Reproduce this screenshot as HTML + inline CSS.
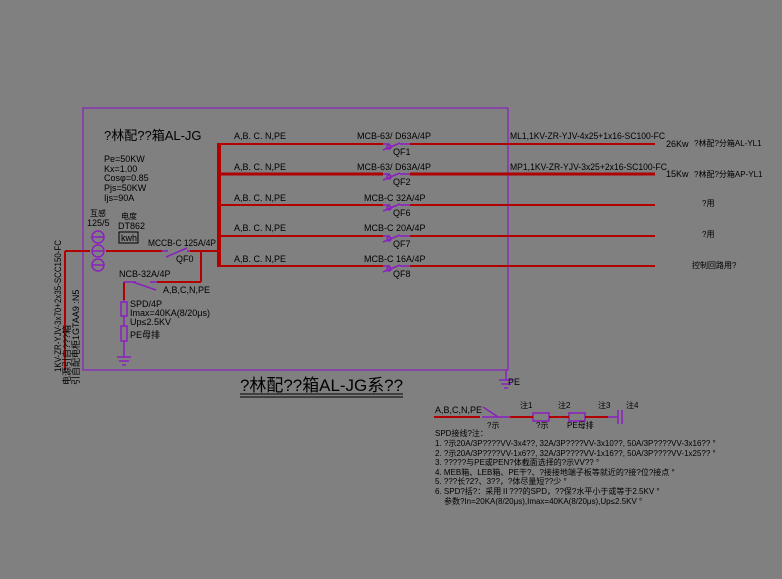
<!DOCTYPE html>
<html><head><meta charset="utf-8"><style>
html,body{margin:0;padding:0;background:#808080;}
svg{display:block;}
text{font-family:"Liberation Sans","Noto Sans CJK SC",sans-serif;fill:#000;}
</style></head><body>
<svg width="782" height="579" viewBox="0 0 782 579" xmlns="http://www.w3.org/2000/svg">
<rect width="782" height="579" fill="#808080"/>
<rect x="83" y="108" width="425" height="262" fill="none" stroke="#8a1fc0" stroke-width="1.2"/>
<line x1="219" y1="143" x2="219" y2="267" stroke="#b00000" stroke-width="4"/>
<g stroke="#b00000" stroke-width="2">
<line x1="219" y1="144" x2="383" y2="144"/><line x1="410" y1="144" x2="655" y2="144"/>
<line x1="410" y1="174" x2="655" y2="174" stroke-width="3"/><line x1="219" y1="174" x2="383" y2="174" stroke-width="3"/>
<line x1="219" y1="205" x2="383" y2="205"/><line x1="410" y1="205" x2="655" y2="205"/>
<line x1="219" y1="236" x2="383" y2="236"/><line x1="410" y1="236" x2="655" y2="236"/>
<line x1="219" y1="266" x2="383" y2="266"/><line x1="410" y1="266" x2="655" y2="266"/>
<line x1="65" y1="251" x2="65" y2="370"/>
<line x1="65" y1="251" x2="90" y2="251"/>
<line x1="106" y1="251" x2="162" y2="251"/>
<line x1="190" y1="251" x2="219" y2="251"/>
<line x1="201" y1="251" x2="201" y2="282"/>
<line x1="201" y1="282" x2="157" y2="282"/>
<line x1="124" y1="282" x2="124" y2="300"/>
</g>
<g stroke="#8a1fc0" stroke-width="1.5" fill="none">
<g transform="translate(0,144)"><line x1="383" y1="0" x2="390" y2="0"/><line x1="383" y1="6" x2="400" y2="-1"/><circle cx="389" cy="3" r="2"/><line x1="400" y1="0" x2="410" y2="0"/></g>
<g transform="translate(0,174)"><line x1="383" y1="0" x2="390" y2="0"/><line x1="383" y1="6" x2="400" y2="-1"/><circle cx="389" cy="3" r="2"/><line x1="400" y1="0" x2="410" y2="0"/></g>
<g transform="translate(0,205)"><line x1="383" y1="0" x2="390" y2="0"/><line x1="383" y1="6" x2="400" y2="-1"/><circle cx="389" cy="3" r="2"/><line x1="400" y1="0" x2="410" y2="0"/></g>
<g transform="translate(0,236)"><line x1="383" y1="0" x2="390" y2="0"/><line x1="383" y1="6" x2="400" y2="-1"/><circle cx="389" cy="3" r="2"/><line x1="400" y1="0" x2="410" y2="0"/></g>
<g transform="translate(0,266)"><line x1="383" y1="0" x2="390" y2="0"/><line x1="383" y1="6" x2="400" y2="-1"/><circle cx="389" cy="3" r="2"/><line x1="400" y1="0" x2="410" y2="0"/></g>
<line x1="162" y1="251" x2="168" y2="251"/><line x1="166" y1="257" x2="187" y2="248"/><line x1="187" y1="251" x2="190" y2="251"/>
<line x1="124" y1="282" x2="136" y2="282"/><line x1="133" y1="282" x2="156" y2="290"/><line x1="150" y1="282" x2="157" y2="282"/>
<circle cx="98" cy="237" r="6"/><circle cx="98" cy="251" r="6"/><circle cx="98" cy="265" r="6"/>
<line x1="92" y1="237" x2="104" y2="237"/><line x1="92" y1="251" x2="104" y2="251"/><line x1="92" y1="265" x2="104" y2="265"/>
<line x1="124" y1="300" x2="124" y2="357"/>
<rect x="121" y="302" width="6" height="14" fill="#808080"/>
<rect x="121" y="326" width="6" height="15" fill="#808080"/>
<line x1="117" y1="357" x2="131" y2="357"/><line x1="119" y1="361" x2="129" y2="361"/><line x1="122" y1="365" x2="126" y2="365"/>
<line x1="506" y1="370" x2="506" y2="380"/><line x1="499" y1="380" x2="513" y2="380"/><line x1="501" y1="384" x2="511" y2="384"/><line x1="504" y1="388" x2="508" y2="388"/>
<line x1="482" y1="417" x2="498" y2="417"/><line x1="483" y1="407" x2="498" y2="417"/>
<line x1="498" y1="417" x2="510" y2="417"/>
<rect x="533" y="413" width="16" height="8" fill="#808080"/>
<rect x="569" y="413" width="16" height="8" fill="#808080"/>
<line x1="608" y1="417" x2="618" y2="417"/><line x1="618" y1="410" x2="618" y2="424"/><line x1="622" y1="410" x2="622" y2="424"/>
</g>
<g stroke="#b00000" stroke-width="2"><line x1="434" y1="417" x2="480" y2="417"/><line x1="510" y1="417" x2="533" y2="417"/><line x1="549" y1="417" x2="569" y2="417"/><line x1="585" y1="417" x2="608" y2="417"/></g>
<rect x="119" y="232" width="19" height="11" fill="none" stroke="#000" stroke-width="1"/>
<g font-size="9">
<text x="104" y="140" font-size="13">?林配??箱AL-JG</text>
<text x="104" y="162">Pe=50KW</text><text x="104" y="172">Kx=1.00</text><text x="104" y="181">Cosφ=0.85</text><text x="104" y="191">Pjs=50KW</text><text x="104" y="201">Ijs=90A</text>
<text x="90" y="216" font-size="8">互感</text><text x="87" y="226">125/5</text>
<text x="121" y="219" font-size="8">电度</text><text x="118" y="229">DT862</text><text x="121" y="241">kwh</text>
<text x="148" y="246" textLength="68" lengthAdjust="spacingAndGlyphs">MCCB-C 125A/4P</text><text x="176" y="262">QF0</text>
<text x="119" y="277">NCB-32A/4P</text><text x="163" y="293">A,B,C,N,PE</text>
<text x="130" y="307">SPD/4P</text><text x="130" y="316">Imax=40KA(8/20μs)</text><text x="130" y="325">Up≤2.5KV</text><text x="130" y="338">PE母排</text>
<text x="234" y="139">A,B. C. N,PE</text><text x="234" y="170">A,B. C. N,PE</text><text x="234" y="201">A,B. C. N,PE</text><text x="234" y="231">A,B. C. N,PE</text><text x="234" y="262">A,B. C. N,PE</text>
<text x="357" y="139">MCB-63/ D63A/4P</text><text x="357" y="170">MCB-63/ D63A/4P</text>
<text x="364" y="201">MCB-C 32A/4P</text><text x="364" y="231">MCB-C 20A/4P</text><text x="364" y="262">MCB-C 16A/4P</text>
<text x="393" y="155">QF1</text><text x="393" y="185">QF2</text><text x="393" y="216">QF6</text><text x="393" y="247">QF7</text><text x="393" y="277">QF8</text>
<text x="510" y="139" textLength="155" lengthAdjust="spacingAndGlyphs">ML1,1KV-ZR-YJV-4x25+1x16-SC100-FC</text>
<text x="510" y="170" textLength="157" lengthAdjust="spacingAndGlyphs">MP1,1KV-ZR-YJV-3x25+2x16-SC100-FC</text>
<text x="666" y="147">26Kw</text><text x="666" y="177">15Kw</text>
<text x="694" y="146" font-size="8">?林配?分箱AL-YL1</text><text x="694" y="177" font-size="8">?林配?分箱AP-YL1</text>
<text x="702" y="206" font-size="8">?用</text><text x="702" y="237" font-size="8">?用</text><text x="692" y="268" font-size="8">控制回路用?</text>
<text x="508" y="385">PE</text>
<text x="435" y="413">A,B,C,N,PE</text><text x="487" y="428" font-size="8">?示</text>
<text x="520" y="408" font-size="8">注1</text><text x="558" y="408" font-size="8">注2</text><text x="598" y="408" font-size="8">注3</text><text x="626" y="408" font-size="8">注4</text>
<text x="536" y="428" font-size="8">?示</text><text x="567" y="428" font-size="8">PE母排</text>
<g font-size="8">
<text x="435" y="436">SPD接线?注：</text>
<text x="435" y="446">1. ?示20A/3P????VV-3x4??, 32A/3P????VV-3x10??, 50A/3P????VV-3x16?? °</text>
<text x="435" y="456">2. ?示20A/3P????VV-1x6??, 32A/3P????VV-1x16??, 50A/3P????VV-1x25?? °</text>
<text x="435" y="465">3. ?????与PE或PEN?体截面选择的?示VV?? °</text>
<text x="435" y="475">4. MEB箱、LEB箱、PE干?、?接接地端子板等就近的?接?位?接点 °</text>
<text x="435" y="484">5. ???长?2?、3??，?体尽量短??少 °</text>
<text x="435" y="494">6. SPD?括?：采用Ⅱ???的SPD，??保?水平小于或等于2.5KV °</text>
<text x="444" y="504">参数?In=20KA(8/20μs),Imax=40KA(8/20μs),Up≤2.5KV °</text>
</g>
</g>
<text x="240" y="391" font-size="17" textLength="163" lengthAdjust="spacingAndGlyphs">?林配??箱AL-JG系??</text>
<line x1="240" y1="394" x2="403" y2="394" stroke="#000" stroke-width="1"/>
<line x1="240" y1="397" x2="403" y2="397" stroke="#000" stroke-width="1"/>
<text transform="translate(61,372) rotate(-90)" font-size="9" textLength="132" lengthAdjust="spacingAndGlyphs">1KV-ZR-YJV-3x70+2x35-SCC150-FC</text>
<text transform="translate(70,385) rotate(-90)" font-size="9">电源引自???箱</text>
<text transform="translate(79,385) rotate(-90)" font-size="9">引自配电柜1GTAA9 :N5</text>
</svg>
</body></html>
